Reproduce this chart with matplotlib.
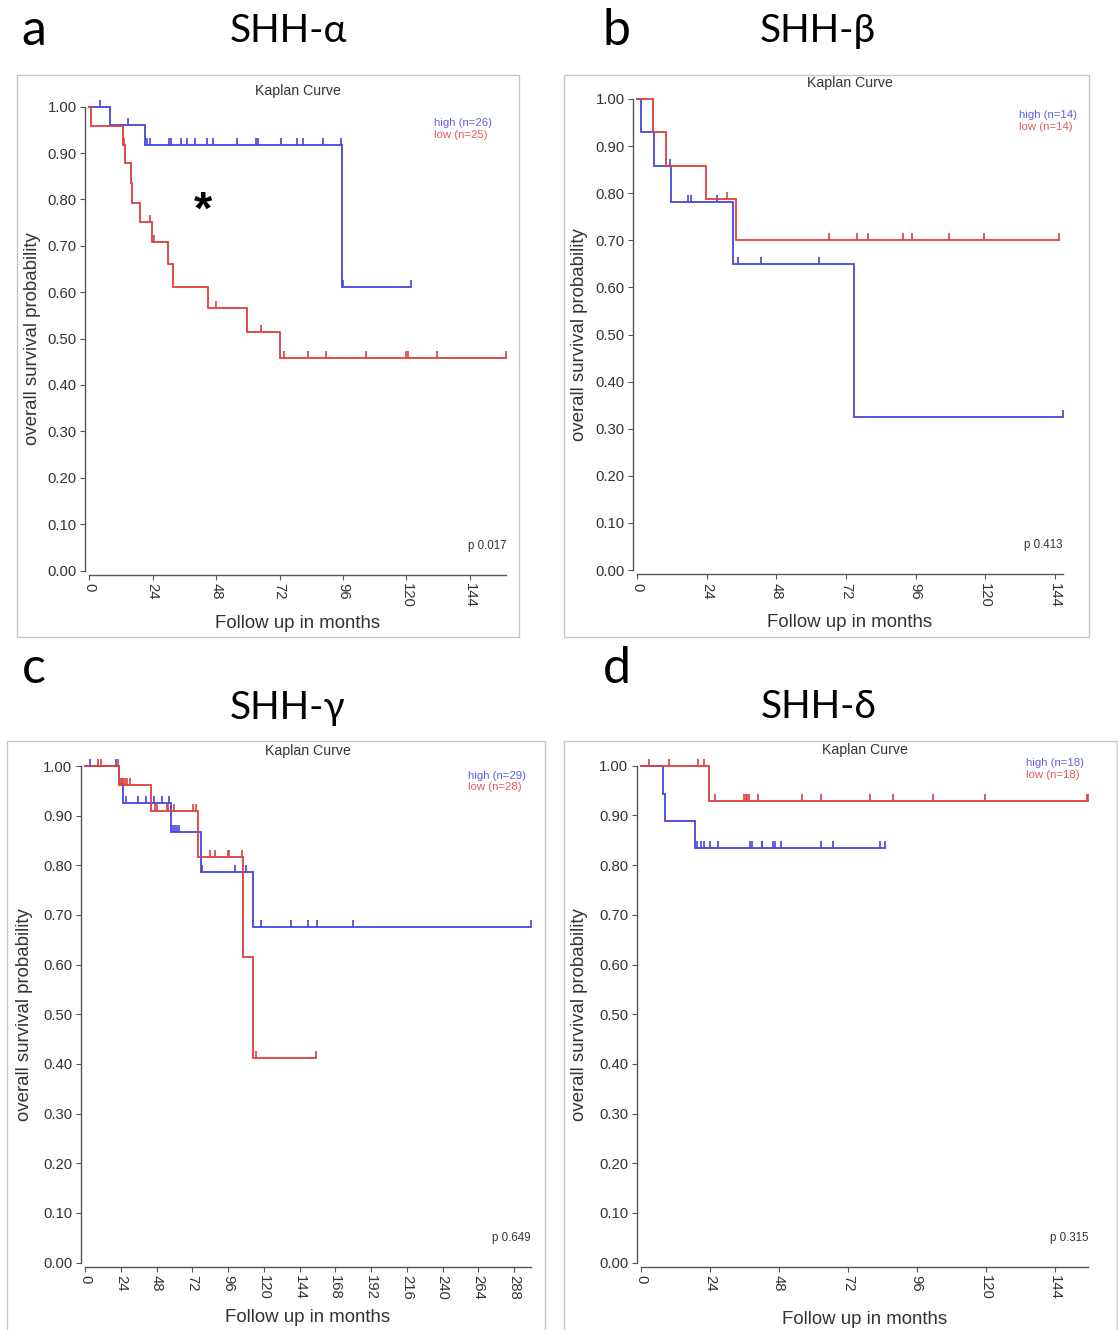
import numpy as np
import matplotlib.pyplot as plt
from matplotlib.patches import Rectangle

W, H = 1118, 1330
BLUE = '#4545dc'
RED = '#dc4040'
SANS = ['Liberation Sans', 'DejaVu Sans']
OFFICE = ['Lato', 'Noto Sans', 'DejaVu Sans']

# ---- a: SHH-alpha ----
a_high_t = [8, 21, 95.5]
a_high_s = [0.960, 0.917, 0.612]
a_high_c = [4, 14.5, 22, 23, 30, 31, 34.7, 36.9, 39.9, 44.7, 46.7, 55.8, 63, 64,
            72.6, 78.4, 80.7, 88.6, 95.2, 96, 121.8]
a_low_t = [0.5, 12.6, 13.5, 15.8, 16.1, 19.2, 23.6, 29.9, 31.8, 44.8, 59.8, 72.2]
a_low_s = [0.959, 0.917, 0.878, 0.835, 0.793, 0.751, 0.708, 0.661, 0.612, 0.565, 0.514, 0.458]
a_low_c = [13.0, 23.0, 24.5, 47.9, 64.9, 73.8, 82.7, 89.7, 104.7, 119.8, 120.6, 131.7, 157.8]

# ---- b: SHH-beta ----
b_high_t = [1.2, 5.9, 11.6, 33.1, 74.8]
b_high_s = [0.929, 0.858, 0.781, 0.649, 0.325]
b_high_c = [11.4, 17.4, 18.5, 27.4, 34.6, 42.8, 62.8, 146.7]
b_low_t = [5.5, 9.9, 23.7, 33.9]
b_low_s = [0.929, 0.857, 0.787, 0.700]
b_low_c = [31.0, 66.2, 75.8, 79.7, 91.7, 94.7, 107.6, 119.7, 145.5]

# ---- c: SHH-gamma ----
c_high_t = [23.0, 25.3, 57.5, 77.7, 112.6]
c_high_s = [0.964, 0.925, 0.868, 0.787, 0.675]
c_high_c = [3.4, 20.8, 27.5, 35.8, 40.9, 46.3, 51.7, 56.6, 59.3, 60.4, 61.5, 63.1, 78.3,
            100.9, 107.9, 117.9, 138.1, 149.7, 155.5, 179.7, 299.4]
c_low_t = [23.0, 44.1, 76.1, 106.3, 112.6]
c_low_s = [0.962, 0.909, 0.817, 0.615, 0.411]
c_low_c = [9, 11, 22, 24, 24.6, 25.7, 26.8, 28.4, 30.2, 47, 48.1, 54.8, 55.9, 60, 72.7,
           74.3, 83.9, 87.3, 96, 96.9, 105.5, 114.6, 154.9]

# ---- d: SHH-delta ----
d_high_t = [7.8, 8.3, 18.8]
d_high_s = [0.944, 0.889, 0.834]
d_high_c = [19.6, 20.8, 21.9, 24, 26.7, 37.9, 38.6, 42, 42.3, 45.8, 46.6, 48.8, 62.8,
            66.9, 83.4, 85]
d_low_t = [23.8]
d_low_s = [0.929]
d_low_c = [2.9, 9.8, 19.7, 21.9, 25.9, 35.9, 36.5, 37, 37.5, 40.8, 55.9, 62.8, 79.9,
           87.9, 101.8, 119.9, 155.4, 155.8]

panels = [
    dict(letter='a', title='SHH-α', high=(a_high_t, a_high_s, a_high_c), low=(a_low_t, a_low_s, a_low_c),
         n=(26, 25), p='p 0.017', xticks=np.arange(0, 145, 24)),
    dict(letter='b', title='SHH-β', high=(b_high_t, b_high_s, b_high_c), low=(b_low_t, b_low_s, b_low_c),
         n=(14, 14), p='p 0.413', xticks=np.arange(0, 145, 24)),
    dict(letter='c', title='SHH-γ', high=(c_high_t, c_high_s, c_high_c), low=(c_low_t, c_low_s, c_low_c),
         n=(29, 28), p='p 0.649', xticks=np.arange(0, 289, 24)),
    dict(letter='d', title='SHH-δ', high=(d_high_t, d_high_s, d_high_c), low=(d_low_t, d_low_s, d_low_c),
         n=(18, 18), p='p 0.315', xticks=np.arange(0, 145, 24)),
]

# layout in pixels: data frame (x0, x1, ytop, ybottom), outer box, letter, title, legend, ylabel, xlabel
layout = [
    dict(frame=(89.3, 506.4, 106.7, 570.5), box=(17, 75, 519, 637), letter=(34, 45), title=(288, 41.7),
         legend=(434, 123), ylab=41, xlab=614.5),
    dict(frame=(637.3, 1062.7, 99, 570), box=(564, 75, 1089, 637), letter=(617, 45), title=(817.6, 41.7),
         legend=(1019, 115), ylab=588, xlab=614),
    dict(frame=(85, 531, 766, 1262.5), box=(7, 741, 545, 1340), letter=(34, 683), title=(287.5, 719.3),
         legend=(468, 776), ylab=33, xlab=1308.5),
    dict(frame=(641, 1088.4, 765.7, 1262.7), box=(564, 741, 1117, 1340), letter=(617, 683), title=(819, 718.3),
         legend=(1026, 763), ylab=588, xlab=1310.5),
]

fig = plt.figure(figsize=(W / 100, H / 100), dpi=100)
fig.patch.set_facecolor('white')


def fx(x):
    return x / W


def fy(y):
    return 1 - y / H


def km(ax, t, s, cens, color):
    end = max(max(cens), max(t))
    tt = [0] + list(t) + [end]
    ss = [1.0] + list(s) + [s[-1]]
    ax.step(tt, ss, where='post', color=color, lw=1.3, clip_on=False, solid_joinstyle='miter')
    cens = np.asarray(cens)
    idx = np.searchsorted(t, cens, side='right')
    sv = np.r_[1.0, s][idx]
    ax.plot(cens, sv, ls='none', marker=2, ms=5.2, mew=1.2, color=color, clip_on=False)
    return end


for P, L in zip(panels, layout):
    bx0, by0, bx1, by1 = L['box']
    fig.patches.append(Rectangle((fx(bx0), fy(by1)), (bx1 - bx0) / W, (by1 - by0) / H,
                                 transform=fig.transFigure, fill=False, edgecolor='#c6c6c6', lw=1.0))
    fig.text(fx(L['letter'][0]), fy(L['letter'][1]), P['letter'], family=OFFICE, fontsize=36,
             ha='center', va='baseline')
    fig.text(fx(L['title'][0]), fy(L['title'][1]), P['title'], family=OFFICE, fontsize=28,
             ha='center', va='baseline')

    x0, x1, yt, yb = L['frame']
    ax = fig.add_axes([fx(x0), fy(yb), (x1 - x0) / W, (yb - yt) / H])
    ax.patch.set_alpha(0)
    km(ax, *P['high'], BLUE)
    km(ax, *P['low'], RED)
    xmax = max(max(P['high'][2]), max(P['low'][2]))
    ax.set_xlim(0, xmax)
    ax.set_ylim(0, 1)

    for side in ('top', 'right'):
        ax.spines[side].set_visible(False)
    ax.spines['left'].set_position(('outward', 3))
    ax.spines['bottom'].set_position(('outward', 3))
    ax.spines['left'].set_bounds(0, 1)
    ax.spines['bottom'].set_bounds(0, xmax)
    for side in ('left', 'bottom'):
        ax.spines[side].set_color('#555555')
        ax.spines[side].set_linewidth(1.0)

    ax.set_yticks(np.arange(0, 1.01, 0.1))
    ax.set_yticklabels([f'{v:.2f}' for v in np.arange(0, 1.01, 0.1)])
    ax.set_xticks(P['xticks'])
    ax.set_xticklabels([str(v) for v in P['xticks']], rotation=270)
    ax.tick_params(direction='out', length=3.6, width=0.8, color='#555555', labelcolor='#333333',
                   labelsize=10.7, pad=2.5)
    for lab in ax.get_xticklabels() + ax.get_yticklabels():
        lab.set_family(SANS)

    w_px, h_px = x1 - x0, yb - yt
    ax.set_ylabel('overall survival probability', fontsize=13.4, family=SANS, color='#333333')
    ax.yaxis.set_label_coords((L['ylab'] - x0) / w_px, 0.5)
    ax.set_xlabel('Follow up in months', fontsize=13.4, family=SANS, color='#333333')
    ax.xaxis.set_label_coords(0.5, (yb - L['xlab']) / h_px)

    ax.text(0.5, 1 + 15.5 / h_px, 'Kaplan Curve', transform=ax.transAxes, ha='center', va='center',
            fontsize=10.2, family=SANS, color='#333333')
    lx, ly = L['legend']
    ax.text((lx - x0) / w_px, (yb - ly) / h_px, f'high (n={P["n"][0]})', transform=ax.transAxes,
            ha='left', va='center', fontsize=8.2, family=SANS, color='#6060e0')
    ax.text((lx - x0) / w_px, (yb - ly - 11.5) / h_px, f'low (n={P["n"][1]})', transform=ax.transAxes,
            ha='left', va='center', fontsize=8.2, family=SANS, color='#e05a5a')
    ax.text(1, 25 / h_px, P['p'], transform=ax.transAxes, ha='right', va='center',
            fontsize=8.3, family=SANS, color='#333333')

# significance mark on panel a
fig.text(fx(203), fy(212), '*', family=SANS, fontsize=34, fontweight='bold', ha='center', va='center')

fig.savefig('out.png', dpi=100, facecolor='white')
